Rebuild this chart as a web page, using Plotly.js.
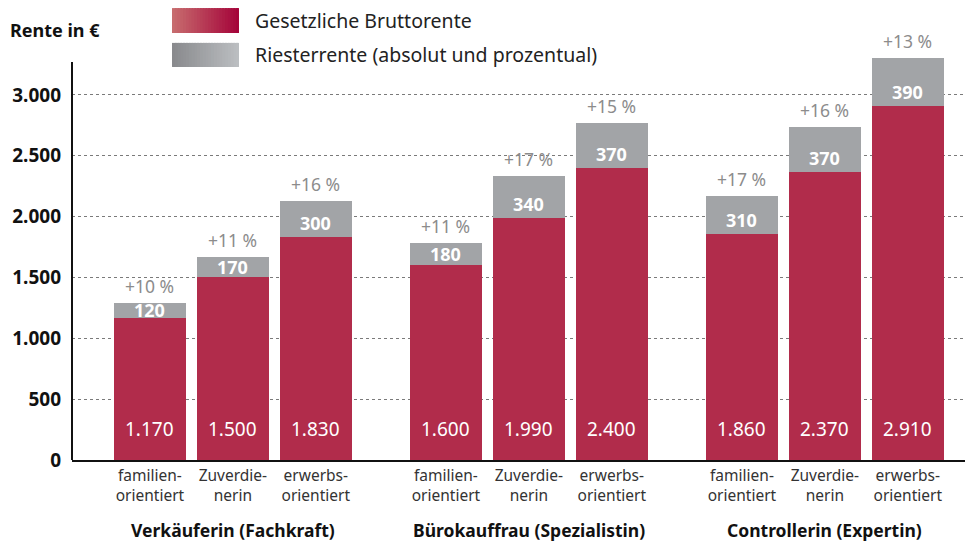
<!DOCTYPE html>
<html><head><meta charset="utf-8">
<script src="https://cdn.plot.ly/plotly-3.0.1.min.js"></script>
<style>html,body{margin:0;padding:0;background:#fff}#chart{width:968px;height:541px}</style>
</head><body><div id="chart"></div>
<script>
// ---- data ----
const groups = ['Verkäuferin (Fachkraft)', 'Bürokauffrau (Spezialistin)', 'Controllerin (Expertin)'];
const types = ['familien-<br>orientiert', 'Zuverdie-<br>nerin', 'erwerbs-<br>orientiert'];
const gesetzlich = [[1170, 1500, 1830], [1600, 1990, 2400], [1860, 2370, 2910]];
const riester = [[120, 170, 300], [180, 340, 370], [310, 370, 390]];
const prozent = [[10, 11, 16], [11, 17, 15], [17, 16, 13]];
const yTicks = [0, 500, 1000, 1500, 2000, 2500, 3000];
const seriesNames = ['Gesetzliche Bruttorente', 'Riesterrente (absolut und prozentual)'];

// ---- layout helpers ----
const GROUP_STEP = 3.57;
const Y_MAX = 3533;
const PLOT_H = 430;
const FONT = 'Noto Sans, Open Sans, sans-serif';
function de(n){ return String(n).replace(/\B(?=(\d{3})+(?!\d))/g, '.'); }

const xs = [], base = [], add = [], pct = [], tickText = [];
groups.forEach((g, gi) => {
  types.forEach((t, ti) => {
    xs.push(gi * GROUP_STEP + ti);
    base.push(gesetzlich[gi][ti]);
    add.push(riester[gi][ti]);
    pct.push(prozent[gi][ti]);
    tickText.push(t);
  });
});

const RED = '#b12c4b';
const GRAY = '#a2a4a7';

const traces = [
  {type: 'bar', x: xs, y: base, name: seriesNames[0], marker: {color: RED}, width: 0.87, showlegend: false, hoverinfo: 'y'},
  {type: 'bar', x: xs, y: add, name: seriesNames[1], marker: {color: GRAY}, width: 0.87, showlegend: false, hoverinfo: 'y'}
];

const annotations = [];
xs.forEach((x, i) => {
  annotations.push({x: x, y: 0, xref: 'x', yref: 'y', text: de(base[i]), showarrow: false,
    yanchor: 'bottom', yshift: 16, font: {family: FONT, size: 19, color: '#ffffff'}});
  const segPx = add[i] * PLOT_H / Y_MAX;
  annotations.push({x: x, y: base[i], xref: 'x', yref: 'y', text: de(add[i]), showarrow: false,
    yanchor: 'middle', yshift: Math.min(14, segPx / 2), height: 18, borderpad: 0,
    font: {family: FONT, size: 18, color: '#ffffff', weight: 'bold'}});
  annotations.push({x: x, y: base[i] + add[i], xref: 'x', yref: 'y', text: '+' + pct[i] + ' %', showarrow: false,
    yanchor: 'bottom', yshift: 3, font: {family: FONT, size: 17.5, color: '#8c8c8c'}});
});
groups.forEach((g, gi) => {
  annotations.push({x: gi * GROUP_STEP + 1, y: -0.163, xref: 'x', yref: 'paper', text: g, showarrow: false,
    yanchor: 'middle', font: {family: FONT, size: 17.5, color: '#111', weight: 'bold'}});
});
// title
annotations.push({x: -0.0717, y: 1.0, xref: 'paper', yref: 'paper', xanchor: 'left', yanchor: 'middle',
  text: 'Rente in €', showarrow: false, font: {family: FONT, size: 18, color: '#111', weight: 'bold'}});
// legend texts
annotations.push({x: 0.203, y: 1.023, xref: 'paper', yref: 'paper', xanchor: 'left', yanchor: 'middle',
  text: seriesNames[0], showarrow: false, font: {family: FONT, size: 19.5, color: '#222'}});
annotations.push({x: 0.203, y: 0.942, xref: 'paper', yref: 'paper', xanchor: 'left', yanchor: 'middle',
  text: seriesNames[1], showarrow: false, font: {family: FONT, size: 19.5, color: '#222'}});

// legend boxes drawn with gradient strips
const shapes = [];
function gradBox(x0, x1, y0, y1, c0, c1){
  const n = 24;
  for (let k = 0; k < n; k++) {
    const f = k / (n - 1);
    const col = 'rgb(' + [0,1,2].map(j => Math.round(c0[j] + (c1[j]-c0[j]) * f)).join(',') + ')';
    const a = x0 + (x1-x0)*k/n;
    const b = (k === n - 1) ? x1 : x0 + (x1-x0)*(k+1)/n + 0.002;
    shapes.push({type: 'rect', xref: 'paper', yref: 'paper', x0: a, x1: b,
      y0: y0, y1: y1, fillcolor: col, line: {width: 0}, layer: 'above'});
  }
}
gradBox(0.112, 0.187, 0.993, 1.051, [199,108,110], [165,4,58]);
gradBox(0.112, 0.187, 0.914, 0.970, [137,138,141], [187,190,193]);
// y axis line (stops below top)
shapes.push({type: 'line', xref: 'paper', yref: 'y', x0: 0, x1: 0, y0: 0, y1: 3270, line: {color: '#111', width: 2}});

const layout = {
  width: 968, height: 541,
  margin: {l: 72, r: 3, t: 30, b: 81},
  paper_bgcolor: '#fff', plot_bgcolor: '#fff',
  separators: ',.',
  barmode: 'stack',
  bargap: 0,
  font: {family: FONT, color: '#222'},
  xaxis: {range: [-0.94, 2 * GROUP_STEP + 2.69], tickvals: xs, ticktext: tickText, showgrid: false,
    zeroline: false, showline: true, linecolor: '#111', linewidth: 2, ticks: '',
    tickfont: {family: FONT, size: 15.5, color: '#333'}, fixedrange: true},
  yaxis: {range: [0, Y_MAX], tickvals: yTicks, tickformat: ',d', showgrid: true, gridcolor: '#7a7a7a', griddash: 'dot',
    gridwidth: 1, zeroline: false, showline: false, ticks: '', ticklabelstandoff: 10,
    tickfont: {family: FONT, size: 19, color: '#111', weight: 'bold'}, fixedrange: true},
  annotations: annotations,
  shapes: shapes,
  showlegend: false
};

Plotly.newPlot('chart', traces, layout, {displayModeBar: false, staticPlot: true});
</script>
</body></html>
